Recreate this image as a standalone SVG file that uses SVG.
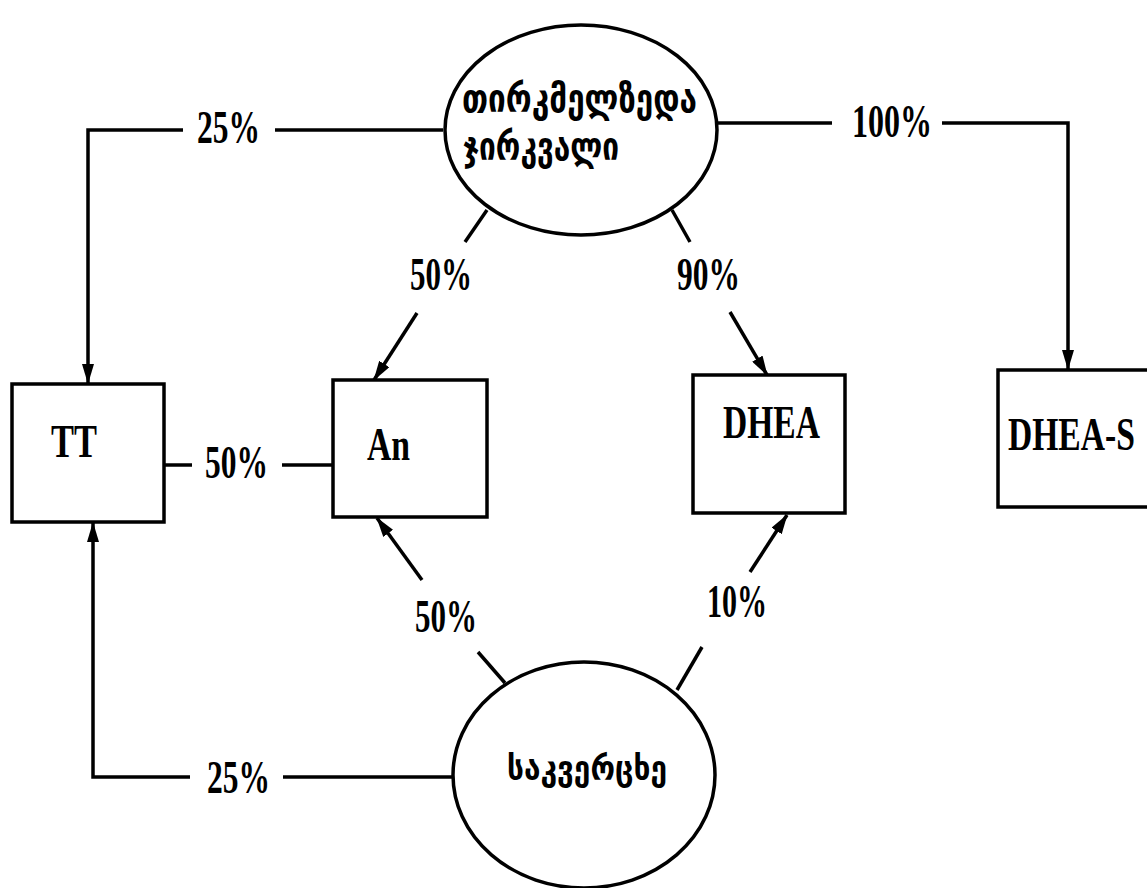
<svg xmlns="http://www.w3.org/2000/svg" width="1147" height="888" viewBox="0 0 1147 888">
<style>
.shape{fill:#fff;stroke:#000;stroke-width:3.5}
.con{fill:none;stroke:#000;stroke-width:3.5}
.lbl{font-family:"Liberation Serif","Times New Roman",serif;font-weight:bold;font-size:46px;fill:#000}
.geo{font-family:"DejaVu Sans","Noto Sans",sans-serif;font-weight:bold;fill:#000}
</style>
<defs>
<marker id="arr" markerUnits="userSpaceOnUse" viewBox="0 0 20 12" markerWidth="20" markerHeight="12" refX="19" refY="6" orient="auto">
<path d="M0,0 L20,6 L0,12 z" fill="#000"/>
</marker>
</defs>
<rect width="1147" height="888" fill="#fff"/>
<g id="connectors">
<line class="con" x1="443" y1="130" x2="275" y2="130"/>
<polyline class="con" points="183,130 88,130 88,383" marker-end="url(#arr)"/>
<text class="lbl" x="197" y="143" textLength="63" lengthAdjust="spacingAndGlyphs">25%</text>

<line class="con" x1="715" y1="123" x2="832" y2="123"/>
<polyline class="con" points="942,123 1068,123 1068,369" marker-end="url(#arr)"/>
<text class="lbl" x="852" y="137" textLength="80" lengthAdjust="spacingAndGlyphs">100%</text>

<line class="con" x1="487" y1="210" x2="465" y2="242"/>
<line class="con" x1="417" y1="313" x2="374" y2="380" marker-end="url(#arr)"/>
<text class="lbl" x="410" y="290" textLength="62" lengthAdjust="spacingAndGlyphs">50%</text>

<line class="con" x1="672" y1="210" x2="690" y2="242"/>
<line class="con" x1="730" y1="312" x2="767" y2="375" marker-end="url(#arr)"/>
<text class="lbl" x="677" y="290" textLength="63" lengthAdjust="spacingAndGlyphs">90%</text>

<line class="con" x1="165" y1="465" x2="192" y2="465"/>
<line class="con" x1="282" y1="465" x2="333" y2="465"/>
<text class="lbl" x="205" y="478" textLength="63" lengthAdjust="spacingAndGlyphs">50%</text>

<line class="con" x1="505" y1="683" x2="478" y2="652"/>
<line class="con" x1="422" y1="580" x2="377" y2="518" marker-end="url(#arr)"/>
<text class="lbl" x="415" y="632" textLength="62" lengthAdjust="spacingAndGlyphs">50%</text>

<line class="con" x1="677" y1="690" x2="702" y2="647"/>
<line class="con" x1="750" y1="572" x2="787" y2="515" marker-end="url(#arr)"/>
<text class="lbl" x="707" y="617" textLength="60" lengthAdjust="spacingAndGlyphs">10%</text>

<line class="con" x1="453" y1="777" x2="283" y2="777"/>
<polyline class="con" points="190,777 93,777 93,523" marker-end="url(#arr)"/>
<text class="lbl" x="207" y="793" textLength="63" lengthAdjust="spacingAndGlyphs">25%</text>
</g>
<g id="adrenal">
<ellipse class="shape" cx="581" cy="130" rx="136" ry="105"/>
<text class="geo" x="462" y="112" font-size="40" textLength="235" lengthAdjust="spacingAndGlyphs">თირკმელზედა</text>
<text class="geo" x="463" y="160" font-size="40" textLength="156" lengthAdjust="spacingAndGlyphs">ჯირკვალი</text>
</g>
<g id="ovary">
<ellipse class="shape" cx="584" cy="775" rx="131" ry="113"/>
<text class="geo" x="507" y="780" font-size="34" textLength="160" lengthAdjust="spacingAndGlyphs">საკვერცხე</text>
</g>
<g id="TT">
<rect class="shape" x="12" y="384" width="152" height="138"/>
<text class="lbl" x="51" y="457" font-size="50" textLength="46" lengthAdjust="spacingAndGlyphs">TT</text>
</g>
<g id="An">
<rect class="shape" x="333" y="380" width="154" height="137"/>
<text class="lbl" x="367" y="460" font-size="45" textLength="43" lengthAdjust="spacingAndGlyphs">An</text>
</g>
<g id="DHEA">
<rect class="shape" x="693" y="375" width="152" height="138"/>
<text class="lbl" x="723" y="438" font-size="46" textLength="97" lengthAdjust="spacingAndGlyphs">DHEA</text>
</g>
<g id="DHEA-S">
<rect class="shape" x="998" y="370" width="170" height="137"/>
<text class="lbl" transform="translate(1008,450) scale(0.73,1)" x="0" y="0" font-size="45">DHEA-S</text>
</g>
</svg>
